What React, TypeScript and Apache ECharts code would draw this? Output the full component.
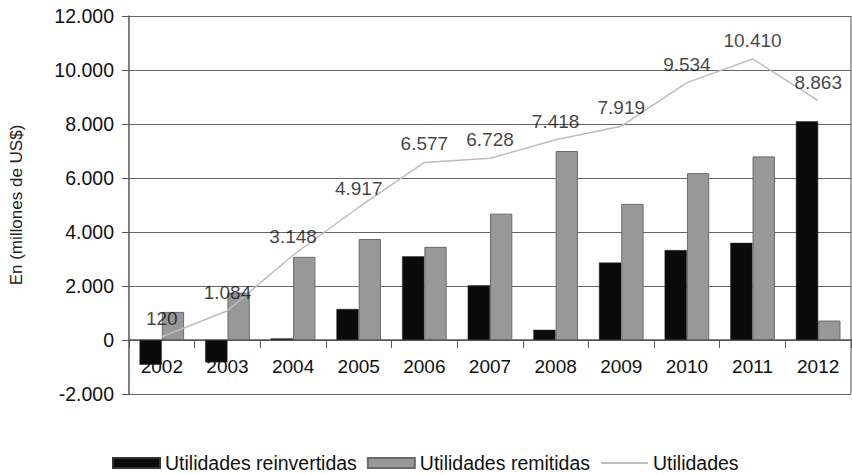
import React, { useEffect, useRef } from "react";
import * as echarts from "echarts";

const years = ["2002", "2003", "2004", "2005", "2006", "2007", "2008", "2009", "2010", "2011", "2012"];
const reinvertidas = [-920, -830, 60, 1150, 3100, 2030, 380, 2870, 3330, 3600, 8100];
const remitidas = [1040, 1750, 3080, 3740, 3450, 4680, 7000, 5040, 6180, 6800, 720];
const utilidades = [120, 1084, 3148, 4917, 6577, 6728, 7418, 7919, 9534, 10410, 8863];
const yTicks = { min: -2000, max: 12000, interval: 2000 };

const fmt = (v: number) => {
  const neg = v < 0;
  const s = Math.abs(Math.round(v)).toString().replace(/\B(?=(\d{3})+(?!\d))/g, ".");
  return (neg ? "-" : "") + s;
};

const FONT = "'Liberation Sans', Arial, sans-serif";

export default function App() {
  const ref = useRef<HTMLDivElement>(null);
  useEffect(() => {
    if (!ref.current) return;
    const chart = echarts.init(ref.current, undefined, { renderer: "svg" });
    chart.setOption({
      animation: false,
      backgroundColor: "#ffffff",
      textStyle: { fontFamily: FONT },
      grid: { left: 124, right: 1, top: 16, bottom: 80, containLabel: false },
      legend: {
        top: 448,
        left: 107,
        itemWidth: 47,
        itemHeight: 10,
        itemGap: 10,
        textStyle: { fontFamily: FONT, fontSize: 19.5, color: "#111" },
        data: [
          { name: "Utilidades reinvertidas", icon: "rect" },
          { name: "Utilidades remitidas", icon: "rect" },
          { name: "Utilidades", itemStyle: { opacity: 0 } },
        ],
      },
      xAxis: {
        type: "category",
        data: years,
        position: "bottom",
        offset: -54,
        axisLine: { onZero: false, lineStyle: { color: "#555", width: 1.5 } },
        axisTick: { show: true, length: 8, lineStyle: { color: "#555" } },
        axisLabel: { fontSize: 19, color: "#111", margin: 17, fontFamily: FONT },
        splitLine: { show: false },
      },
      yAxis: {
        type: "value",
        min: yTicks.min,
        max: yTicks.max,
        interval: yTicks.interval,
        name: "En (millones de US$)",
        nameLocation: "middle",
        nameGap: 104,
        nameTextStyle: { fontSize: 17, color: "#222", fontFamily: FONT },
        axisLine: { show: true, lineStyle: { color: "#555", width: 1.5 } },
        axisTick: { show: true, length: 7, lineStyle: { color: "#555" } },
        axisLabel: { fontSize: 19.5, color: "#111", margin: 15, formatter: (v: number) => fmt(v) },
        splitLine: { show: true, lineStyle: { color: "#666", width: 1.2 } },
      },
      series: [
        {
          name: "Utilidades reinvertidas",
          type: "bar",
          data: reinvertidas,
          barGap: "0%",
          barCategoryGap: "32%",
          itemStyle: { color: "#0a0a0a", borderColor: "#333", borderWidth: 0.5 },
        },
        {
          name: "Utilidades remitidas",
          type: "bar",
          data: remitidas,
          itemStyle: { color: "#989898", borderColor: "#6a6a6a", borderWidth: 1 },
        },
        {
          name: "Utilidades",
          type: "line",
          data: utilidades,
          symbol: "none",
          lineStyle: { color: "#bdbdbd", width: 1.5 },
          itemStyle: { color: "#bdbdbd" },
          z: 5,
        },
        {
          name: "Utilidades etiquetas",
          type: "scatter",
          data: utilidades,
          symbolSize: 0,
          itemStyle: { color: "transparent" },
          label: {
            show: true,
            position: "top",
            distance: 9,
            fontSize: 19,
            color: "#111",
            fontFamily: FONT,
            formatter: (p: any) => fmt(p.value),
          },
          silent: true,
          z: 6,
        },
      ],
      graphic: [
        {
          type: "line",
          shape: { x1: 851, y1: 16, x2: 851, y2: 394 },
          style: { stroke: "#888", lineWidth: 1.5 },
        },
      ],
    });
    return () => chart.dispose();
  }, []);
  return (
    <div
      ref={ref}
      style={{ position: "fixed", left: 0, top: 0, width: 852, height: 474 }}
    />
  );
}
